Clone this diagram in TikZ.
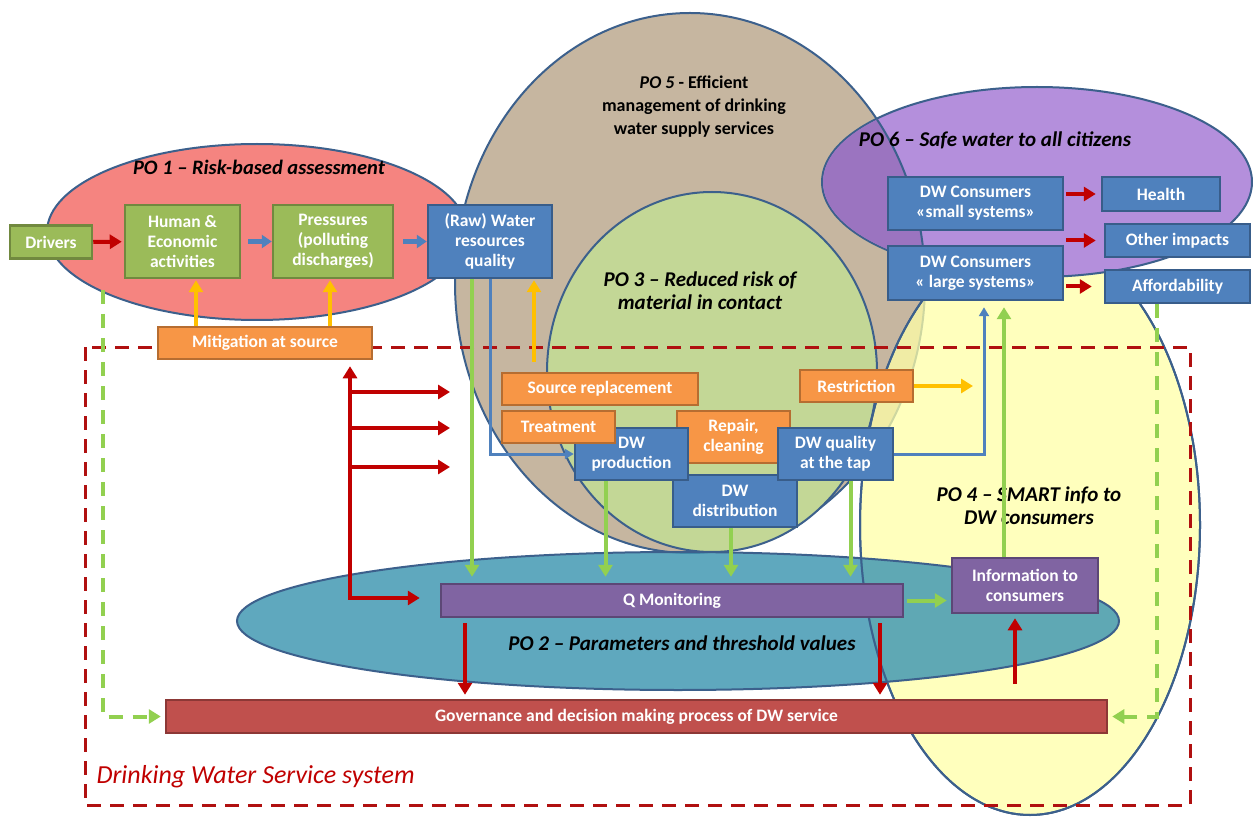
\documentclass[tikz,border=0pt]{standalone}
\usepackage{fontspec}
\setmainfont{Carlito}
\usetikzlibrary{arrows.meta}

\definecolor{pored}{RGB}{245,132,128}
\definecolor{pobrown}{RGB}{198,182,160}
\definecolor{pogreen}{RGB}{195,215,150}
\definecolor{poyellow}{RGB}{255,255,168}
\definecolor{poteal}{RGB}{67,153,179}
\definecolor{popurple}{RGB}{180,143,220}
\definecolor{podeep}{RGB}{155,116,192}
\definecolor{rim}{RGB}{60,96,140}
\definecolor{bgreen}{RGB}{155,187,89}
\definecolor{bgreenline}{RGB}{113,137,63}
\definecolor{bblue}{RGB}{79,129,189}
\definecolor{bblueline}{RGB}{56,93,138}
\definecolor{borange}{RGB}{247,150,70}
\definecolor{borangeline}{RGB}{182,109,49}
\definecolor{bpurple}{RGB}{128,100,162}
\definecolor{bpurpleline}{RGB}{92,71,118}
\definecolor{bred}{RGB}{192,80,77}
\definecolor{bredline}{RGB}{140,56,54}
\definecolor{ared}{RGB}{192,0,0}
\definecolor{ablue}{RGB}{79,129,189}
\definecolor{ayellow}{RGB}{255,192,0}
\definecolor{agreen}{RGB}{146,208,80}
\definecolor{sysred}{RGB}{176,16,16}

\newcommand\boxfont{\fontsize{17.5}{20}\selectfont\bfseries}
\newcommand\pofont{\fontsize{21}{23}\selectfont\bfseries\itshape}

\begin{document}
\begin{tikzpicture} [x=1pt, y=-1pt]
    \tikzstyle{every node} = [align=center]
    \tikzstyle{area} = [draw=rim, line width=2pt]
    \tikzstyle{box} = [draw, line width=2.5pt, text=white, font=\boxfont, inner sep=1pt]
    \tikzstyle{green box} = [box, fill=bgreen, draw=bgreenline]
    \tikzstyle{blue box} = [box, fill=bblue, draw=bblueline]
    \tikzstyle{orange box} = [box, fill=borange, draw=borangeline]
    \tikzstyle{purple box} = [box, fill=bpurple, draw=bpurpleline]
    \tikzstyle{red box} = [box, fill=bred, draw=bredline]
    \tikzstyle{po} = [font=\pofont]
    \tikzstyle{link} = [line width=4pt, -{Triangle[width=14pt,length=12pt]}]
    \tikzstyle{red link} = [link, ared]
    \tikzstyle{blue link} = [link, ablue, line width=5pt, -{Triangle[width=13pt,length=10pt]}]
    \tikzstyle{blue line} = [link, ablue, line width=3pt, -{Triangle[width=10pt,length=9pt]}]
    \tikzstyle{yellow link} = [link, ayellow]
    \tikzstyle{green link} = [link, agreen]
    \tikzstyle{green dash} = [link, agreen, dash pattern=on 14pt off 10pt]

    \useasboundingbox (0,0) rectangle (1253,818);
    \fill[white] (0,0) rectangle (1253,818);

    \path[area, fill=pobrown] (690,283) ellipse [x radius=235pt, y radius=270pt];
    \path[area, fill=pored] (257,232) ellipse [x radius=210pt, y radius=88pt];
    \path[area, fill=pogreen] (712,372) ellipse [x radius=165pt, y radius=180pt];
    \path[area, fill=poyellow, fill opacity=0.75] (1030,525) ellipse [x radius=170pt, y radius=290pt];
    \path[area, fill=poteal, fill opacity=0.85] (678,621) ellipse [x radius=441pt, y radius=69pt];
    \draw[area] (1030,525) ellipse [x radius=170pt, y radius=290pt];
    \path[area, fill=popurple] (1037,182) ellipse [x radius=215pt, y radius=95pt];
    \begin{scope}
        \clip (1037,182) ellipse [x radius=214pt, y radius=94pt];
        \path[area, fill=podeep] (690,283) ellipse [x radius=235pt, y radius=270pt];
    \end{scope}

    \node[po, font=\fontsize{20.5}{23}\selectfont\bfseries\itshape] (po1) at (259,167) {PO 1 – Risk-based assessment};
    \node[font=\fontsize{18}{23}\selectfont\bfseries] (po5) at (694,107) {{\itshape PO 5} - Efficient\\management of drinking\\water supply services};
    \node[po] (po3) at (700,291) {PO 3 – Reduced risk of\\material in contact};
    \node[po] (po6) at (995,140) {PO 6 – Safe water to all citizens};
    \node[po] (po4) at (1029,506) {PO 4 – SMART info to\\DW consumers};
    \node[po] (po2) at (682,643) {PO 2 – Parameters and threshold values};

    \draw[sysred, line width=3pt, dash pattern=on 14pt off 9pt] (85,347) rectangle (1190,805);
    \node[anchor=west, text=ared, font=\fontsize{26}{30}\selectfont\itshape] (sysname) at (93,777) {Drinking Water Service system};

    \node[green box, minimum width=82pt, minimum height=33pt] (drivers) at (51,242) {Drivers};
    \node[green box, minimum width=115pt, minimum height=73pt] (human) at (182.5,241.5) {Human \&\\Economic\\activities};
    \node[green box, minimum width=120pt, minimum height=73pt] (pressures) at (333,241.5) {Pressures\\(polluting\\discharges)};
    \node[blue box, minimum width=124pt, minimum height=73pt] (rawwater) at (490,241.5) {(Raw) Water\\resources\\quality};
    \node[orange box, minimum width=214pt, minimum height=32pt] (mitigation) at (265,343) {Mitigation at source};
    \node[orange box, minimum width=196pt, minimum height=32pt] (sourcerep) at (600,389) {Source replacement};
    \node[orange box, minimum width=113pt, minimum height=52pt] (repair) at (733.5,437) {Repair,\\cleaning};
    \node[blue box, minimum width=124pt, minimum height=52pt] (distribution) at (735,501) {DW\\distribution};
    \node[blue box, minimum width=113pt, minimum height=52pt] (production) at (631.5,454) {DW\\production};
    \node[orange box, minimum width=113pt, minimum height=32pt] (treatment) at (558.5,427) {Treatment};
    \node[blue box, minimum width=115pt, minimum height=52pt] (tapquality) at (835.5,454) {DW quality\\at the tap};
    \node[orange box, minimum width=113pt, minimum height=32pt] (restriction) at (856.5,386) {Restriction};
    \node[blue box, minimum width=175pt, minimum height=53pt] (smallsys) at (975.5,203.5) {DW Consumers\\«small systems»};
    \node[blue box, minimum width=175pt, minimum height=54pt] (largesys) at (975.5,273) {DW Consumers\\« large systems»};
    \node[blue box, minimum width=118pt, minimum height=34pt] (health) at (1161,194) {Health};
    \node[blue box, minimum width=145pt, minimum height=33pt] (otherimp) at (1177.5,240.5) {Other impacts};
    \node[blue box, minimum width=145pt, minimum height=33pt] (afford) at (1177.5,286.5) {Affordability};
    \node[purple box, minimum width=462pt, minimum height=33pt] (qmon) at (672,600.5) {Q Monitoring};
    \node[purple box, minimum width=146pt, minimum height=55pt] (info) at (1025,585.5) {Information to\\consumers};
    \node[red box, minimum width=941pt, minimum height=33pt] (governance) at (636.5,716.5) {Governance and decision making process of DW service};

    \coordinate (restrtip) at (973,386);
    \coordinate (hub) at (350,598);
    \coordinate (govstart) at (103,290);

    \draw[red link, shorten >=2pt] (drivers) -- (human);
    \draw[blue link, shorten <=7pt] (human) -- (pressures);
    \draw[blue link, shorten <=9pt] (pressures) -- (rawwater);
    \draw[yellow link, shorten >=1pt] ([xshift=13.5pt]human.south |- mitigation.north) -- ([xshift=13.5pt]human.south);
    \draw[yellow link, shorten >=1pt] ([xshift=-3pt]pressures.south |- mitigation.north) -- ([xshift=-3pt]pressures.south);
    \draw[yellow link, shorten <=10pt, shorten >=1pt] ([xshift=44pt]rawwater.south |- sourcerep.north) -- ([xshift=44pt]rawwater.south);
    \draw[blue line] (rawwater.south) |- (production.west);
    \draw[green link, shorten >=6pt] ([xshift=-18pt]rawwater.south) -- ([xshift=-18pt]rawwater.south |- qmon.north);
    \draw[green link, shorten >=6pt] ([xshift=-26pt]production.south) -- ([xshift=-26pt]production.south |- qmon.north);
    \draw[green link, shorten >=6pt] ([xshift=-4pt]distribution.south) -- ([xshift=-4pt]distribution.south |- qmon.north);
    \draw[green link, shorten >=6pt] ([xshift=15pt]tapquality.south) -- ([xshift=15pt]tapquality.south |- qmon.north);
    \draw[blue line, shorten >=6pt] (tapquality.east) -| ([xshift=8.5pt]largesys.south);
    \draw[yellow link] (restriction.east) -- (restrtip);
    \draw[green link, shorten >=6pt] ([xshift=-21pt]info.north) -- ([xshift=-21pt]info.north |- largesys.south);
    \draw[green link, shorten <=3pt, shorten >=4pt] (qmon.east) -- (qmon.east -| info.west);
    \draw[red link, shorten <=2pt, shorten >=5pt] (smallsys.east |- health.west) -- (health.west);
    \draw[red link, shorten <=2pt, shorten >=8pt] (smallsys.east |- otherimp.west) -- (otherimp.west);
    \draw[red link, shorten <=2pt, shorten >=12pt] (largesys.east |- afford.west) -- (afford.west);
    \draw[red link, shorten <=5pt, shorten >=4pt] ([xshift=-207pt]qmon.south) -- ([xshift=-207pt]qmon.south |- governance.north);
    \draw[red link, shorten <=5pt, shorten >=4pt] ([xshift=208pt]qmon.south) -- ([xshift=208pt]qmon.south |- governance.north);
    \draw[red link, shorten <=15pt, shorten >=4pt] ([xshift=-10pt]info.south |- governance.north) -- ([xshift=-10pt]info.south);
    \draw[red link, {Triangle[width=14pt,length=12pt]}-{Triangle[width=14pt,length=12pt]}, shorten <=6pt, shorten >=20pt] (hub |- mitigation.south) -- (hub) -- (hub -| qmon.west);
    \foreach \y [count=\i] in {392,428,467} {
        \coordinate (branch\i) at (450,\y);
        \draw[red link] (hub |- branch\i) -- (branch\i);
    }
    \draw[green dash, shorten >=4pt] (govstart) |- (governance.west);
    \draw[green dash, shorten >=4pt] ([xshift=-20.5pt]afford.south) |- (governance.east);
\end{tikzpicture}
\end{document}
